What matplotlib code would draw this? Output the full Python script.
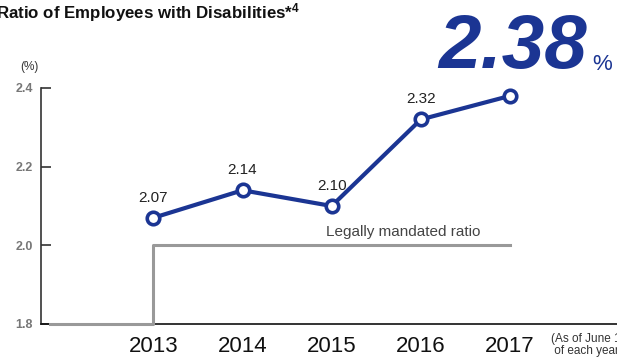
import matplotlib.pyplot as plt

years = [2013, 2014, 2015, 2016, 2017]
ratio = [2.07, 2.14, 2.10, 2.32, 2.38]
mandated_x = [2011.84, 2013, 2013, 2017]
mandated_y = [1.8, 1.8, 2.0, 2.0]
yticks = [1.8, 2.0, 2.2, 2.4]

plt.rcParams['font.family'] = ['Liberation Sans', 'DejaVu Sans']
plt.rcParams['mathtext.default'] = 'regular'

navy = '#1b3593'
gray = '#999999'

fig = plt.figure(figsize=(6.17, 3.59), dpi=100)
ax = fig.add_axes([41 / 617, 35 / 359, 576 / 617, 236 / 359])

ax.plot(mandated_x, mandated_y, color=gray, lw=2.2, zorder=3, clip_on=False)
ax.plot(years, ratio, color=navy, lw=3, marker='o', markersize=9,
        markerfacecolor='white', markeredgecolor=navy, markeredgewidth=2.6, zorder=4)

# last value is shown as the big headline number instead
for x, v in zip(years[:-1], ratio[:-1]):
    ax.text(x, v + 0.033, '%.2f' % v, ha='center', va='bottom', fontsize=11, color='#222222')

ax.text(2015.8, 2.035, 'Legally mandated ratio', ha='center', va='center', fontsize=11, color='#444444')

ax.set_xlim(2011.74, 2018.2)
ax.set_ylim(1.8, 2.4)
ax.set_yticks(yticks)
ax.set_yticklabels(['%.1f' % t for t in yticks], color='#777777', fontsize=9, fontweight='bold')
ax.set_xticks(years)
ax.set_xticklabels([str(y) for y in years], fontsize=16, color='#111111')
ax.tick_params(axis='y', direction='in', length=7, width=1.2, color='#333333', pad=6)
ax.tick_params(axis='x', length=0, pad=9)
for s in ['top', 'right']:
    ax.spines[s].set_visible(False)
ax.spines['left'].set_color('#333333')
ax.spines['bottom'].set_color('#111111')
ax.spines['left'].set_linewidth(1.2)
ax.spines['bottom'].set_linewidth(1.2)

fig.text(-4 / 617, 1 - 13 / 359, 'Ratio of Employees with Disabilities*$^{\\mathregular{4}}$', fontsize=12.2,
         fontweight='bold', va='center', ha='left', color='#111111')
fig.text(20 / 617, 1 - 67 / 359, '(%)', fontsize=8.5, color='#333333', va='center')
fig.text(438 / 617, 1 - 68 / 359, '2.38', fontsize=55, fontweight='bold', fontstyle='italic',
         color=navy, va='baseline', ha='left')
fig.text(592 / 617, 1 - 70 / 359, '%', fontsize=16, color=navy, va='baseline')
fig.text(551 / 617, 1 - 345 / 359, '(As of June 1\n of each year)', fontsize=8.5, color='#333333',
         va='center', ha='left', linespacing=0.9)

fig.savefig('out.png', dpi=100)
